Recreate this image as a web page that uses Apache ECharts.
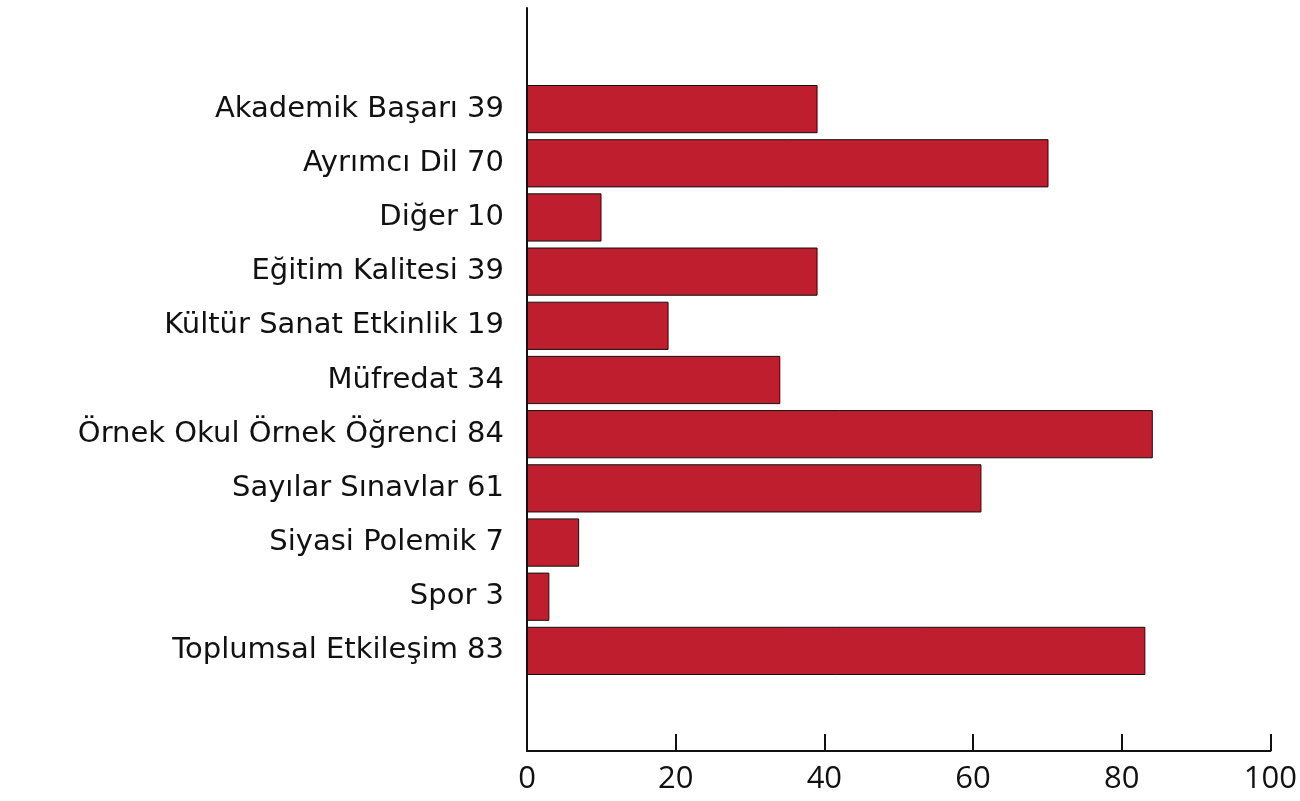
<!DOCTYPE html>
<html>
<head>
<meta charset="utf-8">
<script src="https://cdn.jsdelivr.net/npm/echarts@6/dist/echarts.min.js"></script>
<style>
  html, body { margin: 0; padding: 0; background: #fff; }
  #chart { width: 1300px; height: 801px; }
</style>
</head>
<body>
<div id="chart"></div>
<script>
var categories = ['Akademik Başarı', 'Ayrımcı Dil', 'Diğer', 'Eğitim Kalitesi', 'Kültür Sanat Etkinlik',
  'Müfredat', 'Örnek Okul Örnek Öğrenci', 'Sayılar Sınavlar', 'Siyasi Polemik', 'Spor', 'Toplumsal Etkileşim'];
var values = [39, 70, 10, 39, 19, 34, 84, 61, 7, 3, 83];
var xTicks = [0, 20, 40, 60, 80, 100];

// label = name + count
var labels = categories.map(function (c, i) { return c + ' ' + values[i]; });

var chart = echarts.init(document.getElementById('chart'));
var option = {
  animation: false,
  backgroundColor: '#fff',
  grid: [
    { left: 527, right: 28, top: 8, bottom: 50 },
    { left: 527, right: 28, top: 82, bottom: 123 }
  ],
  xAxis: [
    {
      gridIndex: 0, type: 'value', min: xTicks[0], max: xTicks[xTicks.length - 1], interval: 20,
      axisLine: { show: true, lineStyle: { color: '#111', width: 2 } },
      axisTick: { show: true, inside: true, length: 17, lineStyle: { color: '#111', width: 2 } },
      axisLabel: { color: '#111', fontSize: 31, fontFamily: 'Open Sans', margin: 13 },
      splitLine: { show: false }
    },
    {
      gridIndex: 1, type: 'value', min: 0, max: 100, show: false
    }
  ],
  yAxis: [
    {
      gridIndex: 0, type: 'value', min: 0, max: 1,
      axisLine: { show: true, lineStyle: { color: '#111', width: 2 } },
      axisTick: { show: false }, axisLabel: { show: false }, splitLine: { show: false }
    },
    {
      gridIndex: 1, type: 'category', inverse: true, data: labels,
      axisLine: { show: false }, axisTick: { show: false },
      axisLabel: { color: '#111', fontSize: 29, fontFamily: 'DejaVu Sans', margin: 23 }
    }
  ],
  series: [{
    type: 'bar',
    xAxisIndex: 1,
    yAxisIndex: 1,
    data: values,
    barCategoryGap: '11%',
    itemStyle: { color: '#be1e2d', borderColor: '#111', borderWidth: 1 }
  }]
};
chart.setOption(option);
</script>
</body>
</html>
